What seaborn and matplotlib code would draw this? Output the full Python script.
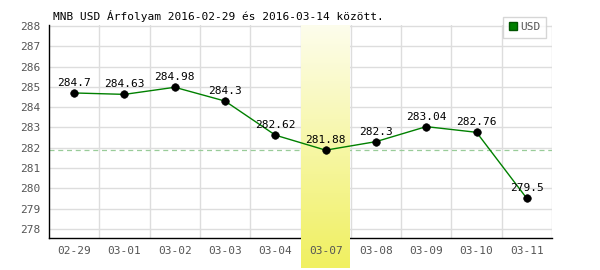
import matplotlib
matplotlib.use("Agg")
import matplotlib.pyplot as plt
import seaborn as sns
import numpy as np
import pandas as pd
from matplotlib.lines import Line2D
from matplotlib.colors import LinearSegmentedColormap

dates = ["02-29", "03-01", "03-02", "03-03", "03-04", "03-07", "03-08", "03-09", "03-10", "03-11"]
values = [284.7, 284.63, 284.98, 284.3, 282.62, 281.88, 282.3, 283.04, 282.76, 279.5]
labels = ["284.7", "284.63", "284.98", "284.3", "282.62", "281.88", "282.3", "283.04", "282.76", "279.5"]
yticks = [278, 279, 280, 281, 282, 283, 284, 285, 286, 287, 288]
highlight = "03-07"
title = "MNB USD Árfolyam 2016-02-29 és 2016-03-14 között."
series = "USD"

sns.set_style("white")
plt.rcParams['font.family'] = ['DejaVu Sans Mono', 'DejaVu Sans']

df = pd.DataFrame({"pos": np.arange(len(dates)), "value": values})

fig = plt.figure(figsize=(6, 2.7), dpi=100)
ax = fig.add_axes([49/600, 1-238/270, (552-49)/600, (238-25)/270])
ax.set_xlim(-0.5, len(dates) - 0.5)
ax.set_ylim(277.55, 288.05)

# highlight gradient column (extends below axis, covers grid and axis line)
hi = dates.index(highlight)
grad = np.linspace(0, 1, 256).reshape(-1, 1)
cmap = LinearSegmentedColormap.from_list("y", ["#fdfdec", "#f0f060"])
ybot = 277.55 - 30/20.3
ax.imshow(grad, extent=(hi - 0.485, hi + 0.485, ybot, 288.05), aspect="auto",
          cmap=cmap, origin="upper", zorder=2.7, clip_on=False)

# grid
for y in yticks:
    ax.axhline(y, color="#dddddd", lw=1, zorder=1)
for x in np.arange(-0.5, len(dates), 1.0)[1:]:
    ax.axvline(x, color="#dddddd", lw=1, zorder=1)

ax.axhline(values[hi], color="#99cc99", lw=0.9, ls=(0, (4, 3)), zorder=2)

sns.lineplot(data=df, x="pos", y="value", color="#008000", lw=1, sort=False, ax=ax, zorder=3)
sns.scatterplot(data=df, x="pos", y="value", color="black", s=30, edgecolor="black", ax=ax, zorder=4)

for i, (v, t) in enumerate(zip(values, labels)):
    ax.text(i, v + 0.25, t, ha="center", va="bottom", fontsize=8, color="black", zorder=5)

ax.set_xticks(range(len(dates)))
ax.set_xticklabels(dates)
ax.set_yticks(yticks)
ax.tick_params(axis="both", labelsize=8, colors="#555555", length=0, pad=6)
ax.xaxis.set_zorder(5)
ax.set_xlabel("")
ax.set_ylabel("")
for s in ["top", "right"]:
    ax.spines[s].set_visible(False)
for s in ["left", "bottom"]:
    ax.spines[s].set_color("black")
    ax.spines[s].set_linewidth(1)

fig.text(53/600, 1-16/270, title, fontsize=8, color="black", va="center", ha="left")

h = Line2D([], [], marker="s", color="#008000", markeredgecolor="#005500", ls="", markersize=6)
leg = ax.legend([h], [series], loc="upper right", bbox_to_anchor=(1.0, 1.065), fontsize=8,
                frameon=True, fancybox=False, edgecolor="#cccccc", handlelength=0.8,
                handletextpad=0.3, borderpad=0.5, labelcolor="#555555")
leg.get_frame().set_linewidth(1)

fig.savefig("out.png", dpi=100)
